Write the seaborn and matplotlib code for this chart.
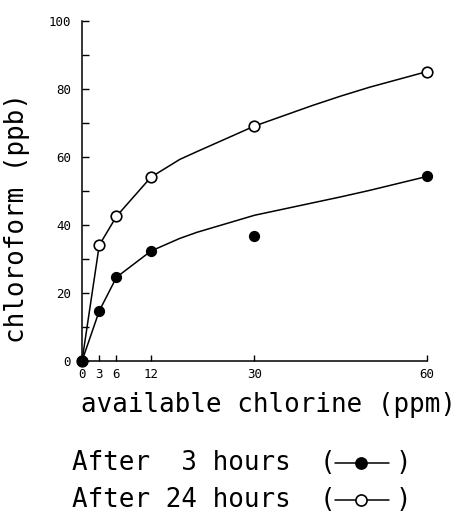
import numpy as np
import pandas as pd
import matplotlib
matplotlib.use('Agg')
import matplotlib.pyplot as plt
from matplotlib.lines import Line2D
import seaborn as sns

# measured points (ppm -> ppb)
chlorine = [0, 3, 6, 12, 30, 60]
chcl3_3h = [0, 14.7, 24.6, 32.3, 36.7, 54.2]
chcl3_24h = [0, 34, 42.5, 54, 69, 85]

# hand drawn curves
curve_x = [0, 3, 6, 12, 17, 20, 30, 40, 45, 50, 60]
curve_3h = [0, 14.7, 24.6, 32.3, 36.0, 37.8, 42.8, 46.4, 48.2, 50.1, 54.2]
curve_24h = [0, 34, 42.5, 54, 59.2, 61.5, 69, 75, 77.8, 80.4, 85]

xticks = [0, 3, 6, 12, 30, 60]
yticks = [0, 20, 40, 60, 80, 100]
yticks_minor = [10, 30, 50, 70, 90]

sns.set_style('ticks')
plt.rcParams['font.family'] = ['DejaVu Sans Mono']
plt.rcParams['text.color'] = 'black'

fig = plt.figure(figsize=(4.64, 5.18), dpi=100)
ax = fig.add_axes([82 / 464, 1 - 361 / 518, 345 / 464, 340.5 / 518])

pts = pd.DataFrame({'x': chlorine, 'h3': chcl3_3h, 'h24': chcl3_24h})
cur = pd.DataFrame({'x': curve_x, 'h3': curve_3h, 'h24': curve_24h})

sns.lineplot(data=cur, x='x', y='h24', ax=ax, color='black', lw=1.1,
             estimator=None, sort=False)
sns.lineplot(data=cur, x='x', y='h3', ax=ax, color='black', lw=1.1,
             estimator=None, sort=False)
sns.scatterplot(data=pts, x='x', y='h24', ax=ax, color='white', edgecolor='black',
                s=58, linewidth=1.2, zorder=3, clip_on=False)
sns.scatterplot(data=pts, x='x', y='h3', ax=ax, color='black', edgecolor='black',
                s=50, linewidth=1, zorder=4, clip_on=False)

ax.set_xlim(0, 60)
ax.set_ylim(0, 100)
ax.set_xticks(xticks)
ax.set_yticks(yticks)
ax.set_yticks(yticks_minor, minor=True)
ax.tick_params(axis='both', which='both', direction='in', length=5, width=1,
               labelsize=9, color='black', labelcolor='black')
ax.tick_params(axis='x', length=4, pad=5)
ax.tick_params(axis='y', pad=8)
for s in ['top', 'right']:
    ax.spines[s].set_visible(False)
for s in ['left', 'bottom']:
    ax.spines[s].set_linewidth(1.1)
    ax.spines[s].set_color('black')

ax.set_xlabel('available chlorine (ppm)', fontsize=18.6, color='black')
ax.xaxis.set_label_coords(0.54, -0.13)
ax.xaxis.label.set_va('center')
ax.set_ylabel('chloroform (ppb)', fontsize=18.6, color='black')
ax.yaxis.set_label_coords(-0.188, 0.42)
ax.yaxis.label.set_va('center')

# legend written as text lines with a small key inside the brackets
fig.text(72 / 464, 1 - 463 / 518, 'After  3 hours', fontsize=18.6, va='center', ha='left', color='black')
fig.text(72 / 464, 1 - 500 / 518, 'After 24 hours', fontsize=18.6, va='center', ha='left', color='black')
for yy, face in [(463, 'black'), (500, 'white')]:
    fig.text(327 / 464, 1 - yy / 518, '(', fontsize=18.6, va='center', ha='center', color='black')
    fig.text(403 / 464, 1 - yy / 518, ')', fontsize=18.6, va='center', ha='center', color='black')
    fig.add_artist(Line2D([335 / 464, 389 / 464], [1 - yy / 518] * 2, color='black', lw=1.1))
    fig.add_artist(Line2D([361 / 464], [1 - yy / 518], marker='o', ms=8, mfc=face,
                          mec='black', mew=1.2, color='black'))

fig.savefig('out.png', dpi=100)
